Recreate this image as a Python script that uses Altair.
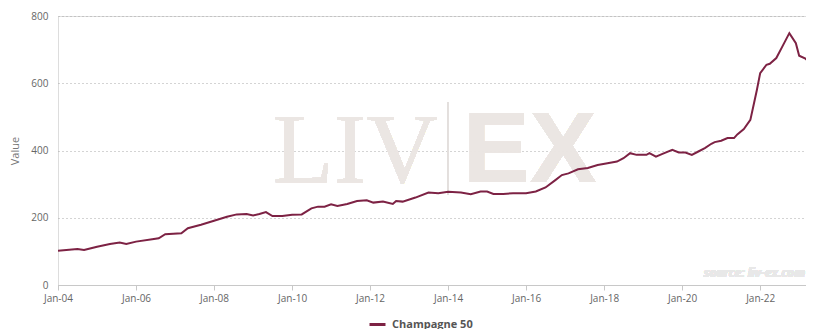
import altair as alt
import pandas as pd

dates = [
    "2004-01", "2004-07", "2004-09", "2005-01", "2005-05", "2005-08", "2005-10",
    "2006-01", "2006-06", "2006-08", "2006-10", "2007-03", "2007-05", "2007-09",
    "2008-01", "2008-05", "2008-08", "2008-11", "2009-01", "2009-03", "2009-05",
    "2009-07", "2009-10", "2010-01", "2010-04", "2010-07", "2010-09", "2010-11",
    "2011-01", "2011-03", "2011-06", "2011-09", "2011-12", "2012-02", "2012-05",
    "2012-08", "2012-09", "2012-11", "2013-03", "2013-07", "2013-10", "2014-01",
    "2014-05", "2014-08", "2014-11", "2015-01", "2015-03", "2015-06", "2015-09",
    "2016-01", "2016-04", "2016-07", "2016-10", "2016-12", "2017-02", "2017-05",
    "2017-08", "2017-11", "2018-02", "2018-05", "2018-07", "2018-09", "2018-11",
    "2019-02", "2019-03", "2019-05", "2019-07", "2019-10", "2019-12", "2020-02",
    "2020-04", "2020-06", "2020-08", "2020-10", "2020-11", "2021-01", "2021-03",
    "2021-05", "2021-06", "2021-08", "2021-10", "2021-11", "2021-12", "2022-01",
    "2022-03", "2022-04", "2022-06", "2022-08", "2022-10", "2022-12", "2023-01",
    "2023-03", "2023-05",
]
values = [
    102, 107, 104, 114, 122, 126, 122,
    129, 136, 139, 151, 154, 169, 179,
    191, 203, 210, 211, 207, 211, 217,
    205, 205, 209, 210, 228, 233, 233,
    240, 235, 241, 250, 252, 245, 248,
    241, 250, 248, 260, 275, 273, 277,
    275, 270, 278, 278, 271, 271, 273,
    273, 278, 290, 312, 327, 332, 344,
    348, 357, 362, 367, 377, 392, 387,
    387, 392, 382, 390, 402, 394, 394,
    387, 397, 407, 420, 425, 429, 437,
    437, 448, 464, 491, 536, 580, 630,
    655, 658, 675, 712, 749, 719, 682,
    673, 657,
]
series_name = "Champagne 50"
tick_years = list(range(2004, 2024, 2))
y_ticks = [0, 200, 400, 600, 800]

df = pd.DataFrame({"date": pd.to_datetime(dates), "value": values, "series": series_name})

FONT = "Open Sans"
LINE_COLOR = "#7d2244"

x_axis = alt.Axis(
    values=[alt.DateTime(year=y, month=1, date=1) for y in tick_years],
    format="%b-%y", title=None, labelColor="#666", labelFontSize=10, labelFont=FONT,
    tickColor="#c8c8c8", tickSize=5, domainColor="#c8c8c8", grid=False, labelPadding=3,
    labelFlush=False, labelAlign="center",
)
y_axis = alt.Axis(
    values=y_ticks, title="Value", titleColor="#777", titleFontSize=11, titleFont=FONT,
    titleFontWeight="normal", labelColor="#666", labelFontSize=10, labelFont=FONT,
    domain=False, ticks=False, labelPadding=10, titlePadding=10,
    grid=True, gridColor="#a8a8a8", gridDash=[1, 3], gridWidth=1,
)

base = alt.Chart(df)

wm_color = "#ebe6e3"
liv = base.mark_text(
    text="LIV", font="Liberation Serif", fontSize=99, align="left", baseline="alphabetic",
    color=wm_color, opacity=0.7,
).encode(x=alt.value(215), y=alt.value(166))
ex = base.mark_text(
    text="EX", font="Liberation Sans", fontWeight="bold", fontSize=100, align="left",
    baseline="alphabetic", color=wm_color, opacity=0.7,
).encode(x=alt.value(405), y=alt.value(166))
sep = base.mark_rule(color="#e3dfdd", strokeWidth=1).encode(
    x=alt.value(390), y=alt.value(86), y2=alt.value(179)
)
source = base.mark_text(
    text="source: liv-ex.com", font=FONT, fontStyle="italic", fontWeight="bold",
    fontSize=12, align="right", baseline="middle", color="#e8e8e8",
).encode(x=alt.value(747), y=alt.value(257))

line = base.mark_line(strokeWidth=2, clip=True).encode(
    x=alt.X("date:T", axis=x_axis,
            scale=alt.Scale(domain=[alt.DateTime(year=2004, month=1, date=1),
                                    alt.DateTime(year=2023, month=3, date=6)])),
    y=alt.Y("value:Q", axis=y_axis, scale=alt.Scale(domain=[0, 800], nice=False)),
    color=alt.Color(
        "series:N", scale=alt.Scale(range=[LINE_COLOR]),
        legend=alt.Legend(
            title=None, orient="none", legendX=310, legendY=299, symbolType="stroke",
            symbolStrokeWidth=3, symbolSize=256, labelFont=FONT, labelFontSize=11,
            labelFontWeight="bold", labelColor="#555", padding=0, labelOffset=5,
        ),
    ),
)

chart = alt.layer(liv, ex, sep, source, line).properties(
    width=748, height=269,
    autosize=alt.AutoSizeParams(type="none"),
    padding={"left": 50, "top": 8, "right": 0, "bottom": 44},
).configure_view(stroke=None).configure(background="white")

chart.save("out.html", embed_options={"renderer": "svg", "actions": False})
